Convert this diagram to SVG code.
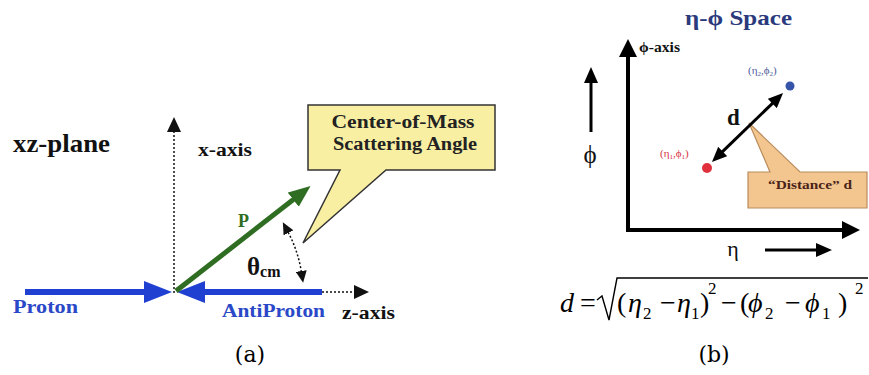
<svg xmlns="http://www.w3.org/2000/svg" width="869" height="375" viewBox="0 0 869 375">
<style>
.b{font-family:'Liberation Serif','Times New Roman',serif;font-weight:bold}
.s{font-family:'Liberation Serif','Times New Roman',serif}
.cap{font-family:'DejaVu Serif','Liberation Serif',serif;font-size:22px}
.dot{fill:none;stroke:#111;stroke-width:1.5;stroke-dasharray:2 2}
.blue{fill:#2a48c8}
</style>
<defs>
<marker id="mBlue" viewBox="0 0 28 22" refX="1" refY="11" markerWidth="28" markerHeight="22" markerUnits="userSpaceOnUse" orient="auto"><path d="M0,0 L28,11 L0,22 Z" fill="#1f40d0"/></marker>
<marker id="mGreen" viewBox="0 0 22 18" refX="1" refY="9" markerWidth="22" markerHeight="18" markerUnits="userSpaceOnUse" orient="auto"><path d="M0,0 L22,9 L0,18 Z" fill="#2f6e22"/></marker>
<marker id="mSm" viewBox="0 0 15 14" refX="1" refY="7" markerWidth="15" markerHeight="14" markerUnits="userSpaceOnUse" orient="auto"><path d="M0,0 L15,7 L0,14 Z" fill="#111"/></marker>
<marker id="mAx" viewBox="0 0 18 18" refX="1" refY="9" markerWidth="18" markerHeight="18" markerUnits="userSpaceOnUse" orient="auto"><path d="M0,0 L18,9 L0,18 Z" fill="#000"/></marker>
<marker id="mAr" viewBox="0 0 16 14" refX="1" refY="7" markerWidth="16" markerHeight="14" markerUnits="userSpaceOnUse" orient="auto"><path d="M0,0 L16,7 L0,14 Z" fill="#000"/></marker>
<marker id="mD" viewBox="0 0 15 13" refX="1" refY="6.5" markerWidth="15" markerHeight="13" markerUnits="userSpaceOnUse" orient="auto-start-reverse"><path d="M0,0 L15,6.5 L0,13 Z" fill="#000"/></marker>
<marker id="mC" viewBox="0 0 12 11" refX="1" refY="5.5" markerWidth="12" markerHeight="11" markerUnits="userSpaceOnUse" orient="auto-start-reverse"><path d="M0,0 L12,5.5 L0,11 Z" fill="#111"/></marker>
</defs>

<!-- Panel (a) -->
<g id="xz-plane-label"><text class="b" x="13" y="152" font-size="25" textLength="97" lengthAdjust="spacingAndGlyphs" fill="#111">xz-plane</text></g>
<g id="x-axis-label"><text class="b" x="198" y="156" font-size="18" textLength="54" lengthAdjust="spacingAndGlyphs" fill="#111">x-axis</text></g>
<g id="proton-label"><text class="b blue" x="13" y="313" font-size="19" textLength="65" lengthAdjust="spacingAndGlyphs">Proton</text></g>
<g id="antiproton-label"><text class="b blue" x="222" y="317" font-size="19" textLength="103" lengthAdjust="spacingAndGlyphs">AntiProton</text></g>
<g id="z-axis-label"><text class="b" x="342" y="319" font-size="18" textLength="53" lengthAdjust="spacingAndGlyphs" fill="#111">z-axis</text></g>
<g id="p-label"><text class="b" x="238" y="227" font-size="18" fill="#2f6e22">P</text></g>
<g id="theta-label"><text class="b" x="247" y="275" font-size="25" fill="#111">θ<tspan font-size="16" dy="2">cm</tspan></text></g>
<g id="callout-cm">
<path d="M308,105 H495 V170 H386 L303,243 L340,170 H308 Z" fill="#f8efa2" stroke="#333" stroke-width="1.5"/>
<text class="b" x="403" y="128" font-size="18" text-anchor="middle" textLength="143" lengthAdjust="spacingAndGlyphs" fill="#222">Center-of-Mass</text>
<text class="b" x="405" y="150" font-size="18" text-anchor="middle" textLength="144" lengthAdjust="spacingAndGlyphs" fill="#222">Scattering Angle</text>
</g>

<!-- Panel (b) -->
<g id="title"><text class="b" x="685" y="25" font-size="22" textLength="107" lengthAdjust="spacingAndGlyphs" fill="#2b3a7c">η-ϕ Space</text></g>
<g id="phi-axis-label"><text class="b" x="639" y="52" font-size="14" textLength="41" lengthAdjust="spacingAndGlyphs" fill="#111">ϕ-axis</text></g>
<g id="phi-label"><text class="s" x="590" y="163" font-size="25" text-anchor="middle" fill="#111">ϕ</text></g>
<g id="eta-label"><text class="s" x="733" y="256" font-size="22" text-anchor="middle" fill="#111">η</text></g>
<g id="point1">
<circle cx="707" cy="168" r="5" fill="#e0303e"/>
<text class="s" x="660" y="157" font-size="11" fill="#d8303e">(η<tspan font-size="7" dy="2">1</tspan><tspan dy="-2">,ϕ</tspan><tspan font-size="7" dy="2">1</tspan><tspan dy="-2">)</tspan></text>
</g>
<g id="point2">
<circle cx="790" cy="86" r="4.5" fill="#3654a8"/>
<text class="s" x="748" y="74" font-size="11" fill="#4a5a9a">(η<tspan font-size="7" dy="2">2</tspan><tspan dy="-2">,ϕ</tspan><tspan font-size="7" dy="2">2</tspan><tspan dy="-2">)</tspan></text>
</g>
<g id="d-label"><text class="b" x="727" y="125" font-size="23" fill="#111">d</text></g>
<g id="callout-distance">
<path d="M748,172 H770 L749,123 L800,172 H867 V208 H748 Z" fill="#f3c690" stroke="#b98b5c" stroke-width="1.2"/>
<text class="b" x="768" y="189" font-size="13" textLength="84" lengthAdjust="spacingAndGlyphs" fill="#4a2418">“Distance” d</text>
</g>
<g id="formula">
<path d="M597,300 L602,296 L609,320 L617,278 H868" fill="none" stroke="#000" stroke-width="1.4"/>
<text class="s" font-size="28" fill="#000">
<tspan x="560" y="312" font-style="italic">d</tspan>
<tspan x="580" y="312">=</tspan>
<tspan x="617" y="312">(</tspan>
<tspan x="628" y="312" font-style="italic">η</tspan>
<tspan x="643" y="319" font-size="17">2</tspan>
<tspan x="660" y="312">−</tspan>
<tspan x="677" y="312" font-style="italic">η</tspan>
<tspan x="691" y="319" font-size="17">1</tspan>
<tspan x="700" y="312">)</tspan>
<tspan x="708" y="294" font-size="17">2</tspan>
<tspan x="721" y="312">−</tspan>
<tspan x="740" y="312">(</tspan>
<tspan x="748" y="312" font-style="italic">ϕ</tspan>
<tspan x="765" y="319" font-size="17">2</tspan>
<tspan x="785" y="312">−</tspan>
<tspan x="805" y="312" font-style="italic">ϕ</tspan>
<tspan x="822" y="319" font-size="17">1</tspan>
<tspan x="838" y="312">)</tspan>
<tspan x="855" y="294" font-size="17">2</tspan>
</text>
</g>

<g id="caption-a"><text class="cap" x="250" y="362" text-anchor="middle">(a)</text></g>
<g id="caption-b"><text class="cap" x="714" y="362" text-anchor="middle">(b)</text></g>

<g id="connectors">
<line class="dot" x1="174" y1="293" x2="174" y2="131" marker-end="url(#mSm)"/>
<line class="dot" x1="322" y1="292" x2="355" y2="292" marker-end="url(#mSm)"/>
<line x1="25" y1="292" x2="145" y2="292" stroke="#1f40d0" stroke-width="6" marker-end="url(#mBlue)"/>
<line x1="322" y1="292" x2="204" y2="292" stroke="#1f40d0" stroke-width="6" marker-end="url(#mBlue)"/>
<line x1="176" y1="291" x2="294" y2="199" stroke="#2f6e22" stroke-width="5" marker-end="url(#mGreen)"/>
<path class="dot" d="M301.4,272 A128,128 0 0 0 288,231.9" marker-start="url(#mC)" marker-end="url(#mC)"/>
<line x1="628" y1="232" x2="628" y2="56" stroke="#000" stroke-width="4" marker-end="url(#mAx)"/>
<line x1="626" y1="230" x2="843" y2="230" stroke="#000" stroke-width="4" marker-end="url(#mAx)"/>
<line x1="591" y1="132" x2="591" y2="82" stroke="#000" stroke-width="3" marker-end="url(#mAr)"/>
<line x1="765" y1="250" x2="817" y2="250" stroke="#000" stroke-width="3" marker-end="url(#mAr)"/>
<line x1="722" y1="152.2" x2="773" y2="102.8" stroke="#000" stroke-width="3" marker-start="url(#mD)" marker-end="url(#mD)"/>
</g>
</svg>
